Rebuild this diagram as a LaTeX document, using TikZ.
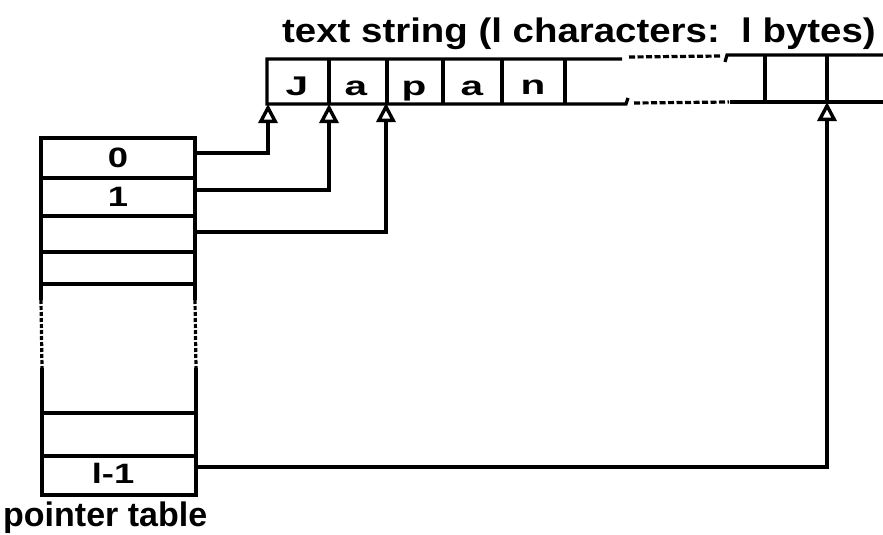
\documentclass[tikz,border=0pt]{standalone}
\usepackage{fontspec}
\setmainfont{Liberation Sans}[FakeStretch=1.13]
\newfontfamily\plainsans{Liberation Sans}
\newfontfamily\cellfont{Liberation Sans}[FakeStretch=1.5]
\newfontfamily\numfont{Liberation Sans}[FakeStretch=1.3]
\usetikzlibrary{arrows.meta}
\begin{document}
\begin{tikzpicture}[x=1pt,y=-1pt,
  wire/.style={line width=3.2pt},
  gapline/.style={line width=3.2pt, dash pattern=on 6pt off 2.5pt},
  sidegap/.style={line width=3.2pt, dash pattern=on 4pt off 2pt},
  ptr/.style={wire, -{Triangle[open, length=19pt, width=19pt, line width=3.4pt]}},
  glyph/.style={font=\bfseries\cellfont\fontsize{27}{27}\selectfont, anchor=base, inner sep=0pt},
  index/.style={font=\bfseries\numfont\fontsize{28}{28}\selectfont, anchor=base, inner sep=0pt},
  caption/.style={font=\bfseries\fontsize{34}{34}\selectfont, anchor=base west, inner sep=0pt}]
\useasboundingbox (0,0) rectangle (883,535);

% ---- text string: cells ----
\draw[wire] (622,59) -- (267,59) -- (267,104) -- (626,104) -- (628,98);
\foreach \x in {329,387,443,502,565} \draw[wire] (\x,59) -- (\x,104);
\draw[gapline] (629,57) -- (722,56);
\draw[gapline] (634,103) -- (729,102);
\draw[wire] (725,62) -- (727,55) -- (883,55);
\draw[wire] (730,102) -- (883,102);
\foreach \x in {765,827} \draw[wire] (\x,55) -- (\x,102);

\node[glyph] (cJ) at (297,95) {J};
\node[glyph] (ca) at (356,95) {a};
\node[glyph] (cp) at (414,95) {p};
\node[glyph] (cb) at (472,95) {a};
\node[glyph] (cn) at (533,94) {n};

\coordinate (k0) at (268,104);
\coordinate (k1) at (329,104);
\coordinate (k2) at (386,103);
\coordinate (kl) at (827,102);

\node[caption] (title) at (282,43) {text string (l characters:\ \ l bytes)};

% ---- pointer table ----
\draw[wire] (41,300) -- (41,138) -- (195,138) -- (195,300);
\draw[wire] (42,368) -- (42,495) -- (196,495) -- (196,368);
\draw[sidegap] (41,300) -- (42,368);
\draw[sidegap] (195,300) -- (196,368);
\foreach \y in {178,216,252,284} \draw[wire] (41,\y) -- (195,\y);
\foreach \y in {413,456} \draw[wire] (42,\y) -- (196,\y);

\node[index] (r0) at (118,167) {0};
\node[index] (r1) at (118,206) {1};
\node[index] (rl) at (113,483) {l-1};

\coordinate (s0) at (195,153);
\coordinate (s1) at (195,190);
\coordinate (s2) at (195,232);
\coordinate (sl) at (196,467);

\node[caption, font=\bfseries\plainsans\fontsize{34}{34}\selectfont] (tablename) at (3,526) {pointer table};

% ---- pointers ----
\draw[ptr] (s0) -| (k0);
\draw[ptr] (s1) -| (k1);
\draw[ptr] (s2) -| (k2);
\draw[ptr] (sl) -| (kl);
\end{tikzpicture}
\end{document}
